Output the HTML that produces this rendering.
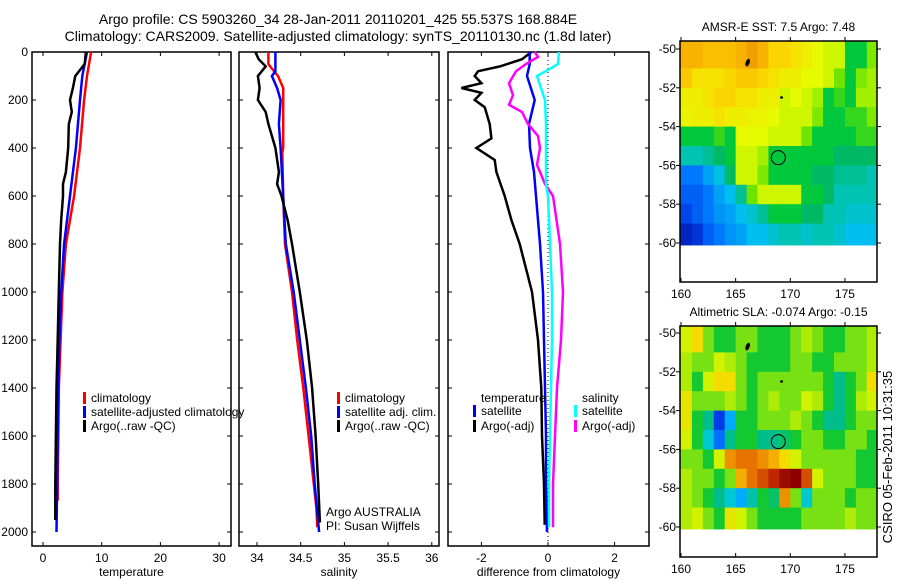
<!DOCTYPE html>
<html><head><meta charset="utf-8">
<style>
html,body{margin:0;padding:0;background:#fff;}
svg{display:block;font-family:"Liberation Sans",sans-serif;}
</style></head>
<body>
<svg id="fig" width="900" height="580" viewBox="0 0 900 580">
<text x="338" y="24" font-size="14" text-anchor="middle">Argo profile: CS 5903260_34 28-Jan-2011 20110201_425 55.537S 168.884E</text>
<text x="338" y="41" font-size="14" text-anchor="middle">Climatology: CARS2009. Satellite-adjusted climatology: synTS_20110130.nc (1.8d later)</text>
<g id="p1"></g>
<g id="p2"></g>
<g id="p3"></g>
<g id="m1"></g>
<g id="m2"></g>
<text transform="translate(892,457) rotate(-90)" font-size="13" text-anchor="middle">CSIRO 05-Feb-2011 10:31:35</text>
</svg>
<script>
// ---------- data ----------
const depthTicks=[0,200,400,600,800,1000,1200,1400,1600,1800,2000];
const tempTicks=[0,10,20,30];
const salTicks=[34,34.5,35,35.5,36];
const diffTicks=[-2,0,2];
const tClimDepth=[0,100,200,400,600,800,1000,1200,1400,1600,1800,1870];
const tClim=[8.2,7.5,7.0,6.3,5.3,3.9,3.3,3.0,2.7,2.6,2.5,2.5];
const tSatDepth=[0,100,200,400,600,800,1000,1200,1400,1600,1800,2000];
const tSat=[7.5,6.7,6.3,5.6,4.6,3.6,3.1,2.8,2.6,2.5,2.4,2.3];
const tArgoDepth=[0,50,100,150,200,250,300,400,500,550,600,700,800,1000,1200,1400,1600,1800,1950];
const tArgo=[7.3,7.1,5.5,5.1,4.6,4.9,4.4,4.3,3.9,3.4,3.4,3.1,2.9,2.7,2.5,2.3,2.2,2.1,2.1];
const sClimDepth=[0,50,60,100,150,400,420,600,800,1000,1200,1400,1600,1800,1900,1980];
const sClim=[34.13,34.13,34.15,34.24,34.30,34.30,34.29,34.30,34.32,34.40,34.46,34.53,34.59,34.65,34.68,34.69];
const sSatDepth=[0,80,100,150,200,300,400,600,800,1000,1200,1400,1600,1800,2000];
const sSat=[34.21,34.21,34.17,34.23,34.27,34.25,34.27,34.30,34.33,34.42,34.49,34.56,34.62,34.66,34.71];
const sArgoDepth=[0,30,60,100,150,200,250,300,400,500,550,600,700,800,1000,1200,1400,1600,1800,1960];
const sArgo=[33.98,34.02,34.10,34.01,34.03,34.01,34.10,34.13,34.21,34.25,34.23,34.28,34.35,34.40,34.49,34.57,34.63,34.67,34.70,34.72];
const dTArgoDepth=[0,30,60,80,100,130,150,170,200,230,300,360,400,450,500,600,700,800,1000,1200,1400,1600,1800,1970];
const dTArgo=[-0.5,-0.78,-1.44,-2.1,-2.2,-2.0,-2.6,-2.0,-2.2,-1.9,-1.75,-1.7,-2.15,-1.6,-1.55,-1.3,-1.1,-0.85,-0.48,-0.3,-0.2,-0.18,-0.12,-0.1];
const dTSatDepth=[0,50,100,200,300,400,500,600,800,1000,1200,1400,1600,1800,2000];
const dTSat=[-0.55,-0.55,-0.63,-0.4,-0.57,-0.54,-0.42,-0.36,-0.24,-0.15,-0.12,-0.09,-0.06,-0.06,-0.03];
const dSArgoDepth=[0,20,50,80,130,180,220,250,300,350,400,470,500,550,600,800,1000,1200,1400,1600,1800,1980];
const dSArgo=[-0.4,-0.3,-0.66,-0.96,-1.17,-1.05,-1.17,-0.78,-0.6,-0.3,-0.24,-0.33,-0.24,-0.09,0.15,0.36,0.45,0.39,0.27,0.21,0.15,0.15];
const dSSatDepth=[0,50,70,100,150,200,300,400,550,600,800,1000,1200,1400,1600,1800,1980];
const dSSat=[0.33,0.3,0.06,-0.33,-0.21,-0.09,-0.06,-0.06,-0.06,0,0.06,0.12,0.12,0.09,0.06,0.03,0.03];
const mapLonTicks=[160,165,170,175];
const mapLatTicks=[-50,-52,-54,-56,-58,-60];
const sstGrid=[
[9.1,9.1,8.9,8.9,8.9,9.1,9.4,9.1,8.6,8.6,8.4,8.2,8,7.8,7.8,6.8,6.8,7.3],
[8.8,8.4,8.4,8.4,8.6,8.8,8.8,8.6,8.4,8.2,8.2,8,8,7.8,7.2,6.8,7.3,7.5],
[8.2,8.2,8.4,8.6,8.6,8.4,8.4,8.2,8.2,7.8,8,7.8,7.5,6.8,7,6.8,7.5,7.5],
[8.1,8.2,8.2,8.4,8.2,8.2,8.1,8.1,8,7.8,7.8,7.8,7.3,6.8,6.8,7,7,7.3],
[6.8,6.8,6.8,7,6.8,8,8,8,7.8,7.8,7.8,7.2,6.8,6.8,6.8,6.8,7,7],
[6,6,6.2,6.5,6.8,7.8,7.8,7.5,6.8,6.8,6.8,6.8,6.8,6.8,6.5,6.5,6.5,6.5],
[5,5,5.3,5.6,6.5,7.8,7.8,7.3,6.8,6.8,6.8,6.8,6.5,6.5,6.2,6.2,6.2,6],
[4.8,4.8,5,5.3,5.5,6.2,7.2,7.8,7.8,7.8,7.8,6.8,6.8,6.5,6,6,6,6],
[4.6,4.8,5,5.2,5.3,5.5,5.8,6.2,6.8,6.8,6.8,6.5,6.5,6,6,5.8,5.8,5.8],
[4.2,4.4,4.8,5,5.2,5.3,5.5,5.5,5.8,6,6,5.8,6,6,5.8,5.5,5.5,5.5]];
const slaGrid=[
[0.05,0.1,0,-0.05,-0.05,0,0,-0.05,-0.05,-0.05,0,0.03,0,-0.05,-0.05,0,0,0.03],
[0.03,0,0,0.05,0.03,0,-0.05,-0.05,-0.05,-0.05,0,0,-0.05,-0.05,0,0,0,0.03],
[0.03,-0.05,0.05,0.1,0.1,0,-0.05,0,0,0,0,0,0,-0.05,-0.1,-0.05,0,0.1],
[0.08,0,0,0,0.03,0,-0.05,0,0.03,0,0,0.05,0.03,-0.05,-0.1,-0.05,0.03,0.05],
[0.08,-0.05,-0.1,-0.3,-0.2,-0.05,-0.05,0,0,0,0.03,0,-0.05,-0.1,-0.1,-0.05,0,0],
[0.05,-0.05,-0.15,-0.25,-0.1,-0.05,-0.05,-0.1,-0.1,-0.08,-0.05,0,0,-0.05,-0.05,0,0,-0.05],
[0,0,-0.05,0.05,0.2,0.25,0.25,0.2,0.15,0.1,0.05,0,0,0,0,0,-0.05,-0.05],
[0.03,0,0,-0.05,0,0.15,0.25,0.3,0.35,0.4,0.42,0.3,0.05,0,0,0,-0.05,-0.05],
[0.03,0,-0.05,-0.1,-0.15,-0.2,-0.12,-0.05,-0.08,0.2,0,-0.15,0,0,0,-0.05,0,0],
[0.03,0.05,0,-0.05,0.08,0.05,0,-0.05,-0.05,-0.05,-0.05,0,0,0,0,0.03,0,0]];

// ---------- helpers ----------
const NS='http://www.w3.org/2000/svg';
function mk(parent,tag,attrs,txt){const e=document.createElementNS(NS,tag);for(const k in attrs)e.setAttribute(k,attrs[k]);if(txt!==undefined)e.textContent=txt;parent.appendChild(e);return e;}
const yD=d=>52+d*0.24;
function panel(g,x0,x1,xs,ticks,fmt,xlabel,showDepth){
  const top=52,bot=546;
  if(showDepth){depthTicks.forEach(d=>{
    const t=mk(g,'text',{x:28,y:yD(d)+4,'font-size':12,'text-anchor':'end'},d);
    
    
  });}
  depthTicks.forEach(d=>{
    mk(g,'line',{x1:x0,x2:x0+4,y1:yD(d),y2:yD(d),stroke:'#000'});
    mk(g,'line',{x1:x1-4,x2:x1,y1:yD(d),y2:yD(d),stroke:'#000'});
  });
  ticks.forEach(v=>{
    const x=xs(v);
    mk(g,'line',{x1:x,x2:x,y1:bot,y2:bot-4,stroke:'#000'});
    mk(g,'line',{x1:x,x2:x,y1:top,y2:top+4,stroke:'#000'});
    const t=mk(g,'text',{x:x,y:bot+16,'font-size':12,'text-anchor':'middle'},fmt(v));
    
    
  });
  const xl=mk(g,'text',{x:(x0+x1)/2,y:bot+30,'font-size':12,'text-anchor':'middle'},xlabel);
  
  
  const r=mk(g,'rect',{x:x0,y:top,width:x1-x0,height:bot-top,fill:'none',stroke:'#000','stroke-width':1.5});
  
  
}
function line(g,xs,vals,depths,color,name){
  const pts=vals.map((v,i)=>xs(v).toFixed(1)+','+yD(depths[i]).toFixed(1)).join(' ');
  const p=mk(g,'polyline',{points:pts,fill:'none',stroke:color,'stroke-width':2.5});
  
  
}
function legend(g,x,y,color,label){
  mk(g,'rect',{x:x,y:y-6,width:3,height:12,fill:color});
  const t=mk(g,'text',{x:x+8,y:y+4,'font-size':12},label);
  
  
}

// panel 1
const p1=document.getElementById('p1');
const xT=v=>43+v*5.87;
panel(p1,32,231,xT,tempTicks,v=>v,'temperature',true);
line(p1,xT,tClim,tClimDepth,'#ff0000','temp-climatology-line');
line(p1,xT,tSat,tSatDepth,'#0000ff','temp-satellite-line');
line(p1,xT,tArgo,tArgoDepth,'#000000','temp-argo-line');
legend(p1,83,398,'#ff0000','climatology');
legend(p1,83,412,'#0000ff','satellite-adjusted climatology');
legend(p1,83,426,'#000000','Argo(..raw -QC)');

// panel 2
const p2=document.getElementById('p2');
const xS=v=>257+(v-34)*87.4;
panel(p2,239,439,xS,salTicks,v=>v,'salinity',false);
line(p2,xS,sClim,sClimDepth,'#ff0000','sal-climatology-line');
line(p2,xS,sSat,sSatDepth,'#0000ff','sal-satellite-line');
line(p2,xS,sArgo,sArgoDepth,'#000000','sal-argo-line');
legend(p2,337,398,'#ff0000','climatology');
legend(p2,337,412,'#0000ff','satellite adj. clim.');
legend(p2,337,426,'#000000','Argo(..raw -QC)');
mk(p2,'text',{x:326,y:516,'font-size':12},'Argo AUSTRALIA');
mk(p2,'text',{x:326,y:530,'font-size':12},'PI: Susan Wijffels');

// panel 3
const p3=document.getElementById('p3');
const xDf=v=>548+v*33.3;
panel(p3,448,649,xDf,diffTicks,v=>v,'difference from climatology',false);
mk(p3,'line',{x1:xDf(0),x2:xDf(0),y1:52,y2:546,stroke:'#000','stroke-dasharray':'1,3'});
line(p3,xDf,dTArgo,dTArgoDepth,'#000000','diff-temp-argo-line');
line(p3,xDf,dTSat,dTSatDepth,'#0000ff','diff-temp-satellite-line');
line(p3,xDf,dSArgo,dSArgoDepth,'#ff00ff','diff-sal-argo-line');
line(p3,xDf,dSSat,dSSatDepth,'#00ffff','diff-sal-satellite-line');
mk(p3,'text',{x:481,y:402,'font-size':12},'temperature');
mk(p3,'text',{x:582,y:402,'font-size':12},'salinity');
legend(p3,473,411,'#0000ff','satellite');
legend(p3,473,426,'#000000','Argo(-adj)');
legend(p3,574,411,'#00ffff','satellite');
legend(p3,574,426,'#ff00ff','Argo(-adj)');

// colour maps
function interp(stops,v){
  if(v<=stops[0][0])return 'rgb('+stops[0][1].join(',')+')';
  for(let i=1;i<stops.length;i++){if(v<=stops[i][0]){const a=stops[i-1],b=stops[i],t=(v-a[0])/(b[0]-a[0]);
    const c=a[1].map((x,k)=>Math.round(x+(b[1][k]-x)*t));return 'rgb('+c.join(',')+')';}}
  return 'rgb('+stops[stops.length-1][1].join(',')+')';
}
const sstStops=[[4,[0,20,170]],[4.6,[0,70,235]],[5,[0,120,255]],[5.5,[0,190,240]],[6,[0,195,180]],[6.5,[0,185,100]],[6.8,[0,200,60]],[7.2,[110,228,0]],[7.6,[180,242,0]],[8,[230,250,0]],[8.5,[250,220,0]],[9,[250,185,0]],[9.6,[240,145,0]],[10,[224,96,0]]];
const slaStops=[[-0.3,[0,60,230]],[-0.25,[0,110,255]],[-0.2,[0,170,255]],[-0.15,[0,200,210]],[-0.1,[0,190,140]],[-0.05,[20,200,50]],[0,[120,225,20]],[0.05,[210,243,0]],[0.1,[245,220,0]],[0.15,[245,175,0]],[0.25,[230,115,0]],[0.35,[190,40,0]],[0.42,[140,0,0]]];
function map(g,top,bot,y50,y60,grid,stops,title,name){
  const lonX=l=>681+(l-160)*10.93;
  const latY=la=>y50+(-50-la)*(y60-y50)/10;
  const left=680,right=877;
  grid.forEach((row,r)=>row.forEach((v,c)=>{
    const x0=lonX(160+c), x1=lonX(161+c);
    const y0=r===0?top:latY(-50-r), y1=r===9?latY(-60.1):latY(-51-r);
    const cell=mk(g,'rect',{x:c===0?left:x0,y:y0,width:(c===17?right:x1)-(c===0?left:x0)+0.5,height:y1-y0+0.5,fill:interp(stops,v)});
    
    
  }));
  mk(g,'circle',{cx:lonX(168.9),cy:latY(-55.6),r:7,fill:'none',stroke:'#000'});
  mk(g,'ellipse',{cx:lonX(166.1),cy:latY(-50.7),rx:2,ry:4,fill:'#000',transform:'rotate(20 '+lonX(166.1)+' '+latY(-50.7)+')'});
  mk(g,'ellipse',{cx:lonX(169.2),cy:latY(-52.5),rx:1.5,ry:1.2,fill:'#000'});
  mk(g,'rect',{x:left,y:top,width:right-left,height:bot-top,fill:'none',stroke:'#000','stroke-width':1.5});
  mapLonTicks.forEach(l=>{
    const x=lonX(l);
    mk(g,'line',{x1:x,x2:x,y1:top,y2:top-4,stroke:'#000'});
    mk(g,'line',{x1:x,x2:x,y1:bot,y2:bot-4,stroke:'#000'});
    const t=mk(g,'text',{x:x,y:bot+16,'font-size':12,'text-anchor':'middle'},l);
    
    
  });
  mapLatTicks.forEach(la=>{
    const y=latY(la);
    mk(g,'line',{x1:left-4,x2:left,y1:y,y2:y,stroke:'#000'});
    mk(g,'line',{x1:right,x2:right+4,y1:y,y2:y,stroke:'#000'});
    const t=mk(g,'text',{x:676,y:y+4,'font-size':12,'text-anchor':'end'},la);
    
    
  });
  const tt=mk(g,'text',{x:(left+right)/2,y:top-10,'font-size':12,'text-anchor':'middle'},title);
  
  
}
map(document.getElementById('m1'),41,282,49,243,sstGrid,sstStops,'AMSR-E SST: 7.5 Argo: 7.48','sst-map');
map(document.getElementById('m2'),326,557,333,527,slaGrid,slaStops,'Altimetric SLA: -0.074 Argo: -0.15','sla-map');
</script>
</body></html>
